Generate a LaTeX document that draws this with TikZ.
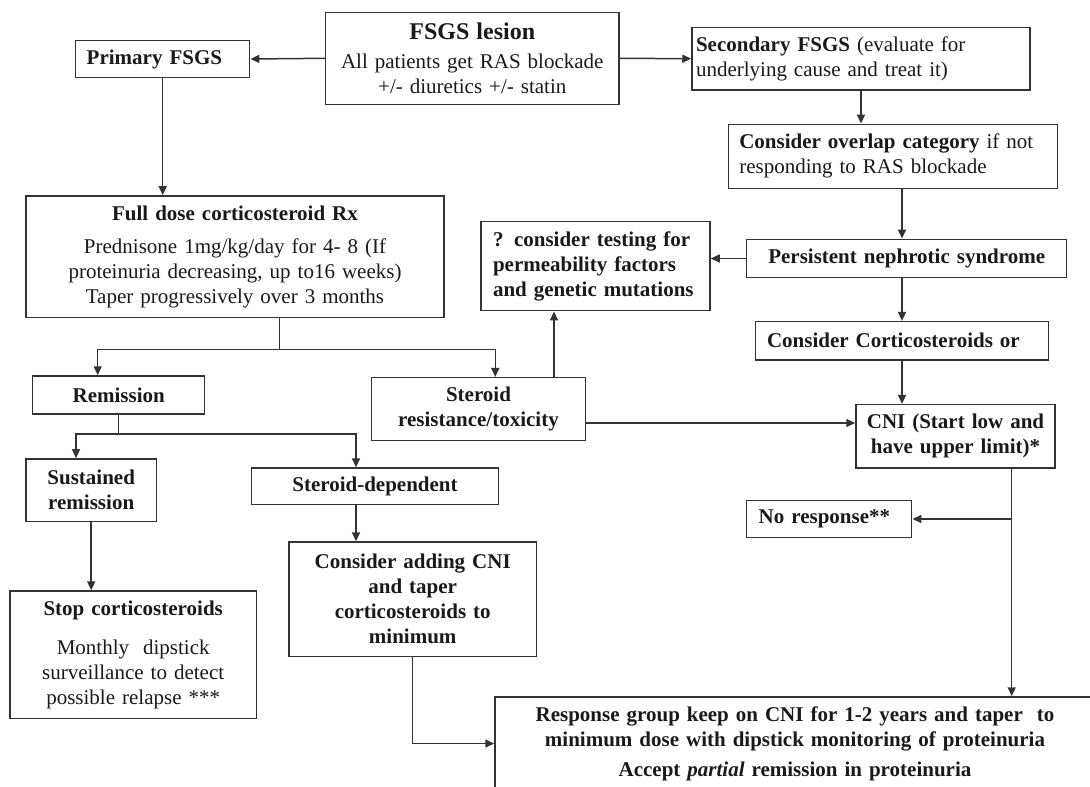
\documentclass[tikz,border=0pt]{standalone}
\usepackage{fontspec}
\setmainfont{Liberation Serif}
\usetikzlibrary{arrows.meta}
\begin{document}
\begin{tikzpicture}[x=1pt, y=-1pt,
	box/.style={draw=black!80, line width=1.5pt, text=black!90, inner xsep=10pt, inner ysep=0pt, align=center, font=\fontsize{21}{25}\selectfont\bfseries},
	plain/.style={box, font=\fontsize{21}{25}\selectfont},
	arr/.style={draw=black!80, line width=1.5pt, -{Triangle[length=9pt,width=8pt]}},
	link/.style={draw=black!80, line width=1.5pt}]
	\path[use as bounding box] (0,0) rectangle (1090,787);
	% top row
	\node[plain, text width=273.3pt, minimum height=92pt] (lesion) at (472.3,58.3) {{\fontsize{24}{29}\selectfont\bfseries FSGS lesion}\\[4pt] All patients get RAS blockade\\ +/- diuretics +/- statin};
	\node[box, align=left, inner xsep=11pt, text width=152pt, minimum height=36.6pt] (primary) at (162.7,59) {Primary FSGS};
	\node[plain, align=left, inner xsep=4pt, text width=330pt, minimum height=62.7pt] (secondary) at (861,58.7) {\textbf{Secondary FSGS} (evaluate for\\ underlying cause and treat it)};
	\node[plain, align=left, inner xsep=11pt, text width=307.4pt, minimum height=64pt] (overlap) at (893,156.3) {\textbf{Consider overlap category} if not\\ responding to RAS blockade};
	% middle
	\node[plain, text width=398pt, minimum height=121.7pt] (fulldose) at (235,256.8) {\textbf{Full dose corticosteroid Rx}\\[8pt] Prednisone 1mg/kg/day for 4- 8 (If\\ proteinuria decreasing, up to16 weeks)\\ Taper progressively over 3 months};
	\node[box, align=left, inner xsep=12pt, text width=205pt, minimum height=89pt] (permeability) at (595.5,266.2) {? consider testing for\\ permeability factors\\ and genetic mutations};
	\node[box, text width=300pt, minimum height=38.4pt] (persistent) at (906.7,258.5) {Persistent nephrotic syndrome};
	\node[box, align=left, inner xsep=11.7pt, text width=269.6pt, minimum height=38.3pt] (considercs) at (901.8,340.8) {Consider Corticosteroids or};
	\node[box, text width=152pt, minimum height=38pt] (remission) at (118.7,395) {Remission};
	\node[box, text width=194.4pt, minimum height=62.6pt] (steroidres) at (478.5,409) {Steroid\\ resistance/toxicity};
	\node[box, inner xsep=8pt, text width=183pt, minimum height=63.3pt] (cni) at (955.5,436.3) {CNI (Start low and\\ have upper limit)*};
	% lower part
	\node[box, text width=110.3pt, minimum height=62.7pt] (sustained) at (91.2,490.3) {Sustained\\ remission};
	\node[box, text width=226.6pt, minimum height=36.3pt] (steroiddep) at (375,486.2) {Steroid-dependent};
	\node[box, align=left, inner xsep=12pt, text width=141pt, minimum height=37.4pt] (noresp) at (829.2,519) {No response**};
	\node[plain, text width=226.3pt, minimum height=127.3pt] (stop) at (133.2,654.7) {\textbf{Stop corticosteroids}\\[14pt] Monthly~ dipstick\\ surveillance to detect\\ possible relapse ***};
	\node[box, text width=227.3pt, minimum height=114.3pt] (addcni) at (412.7,599.2) {Consider adding CNI\\ and taper\\ corticosteroids to\\ minimum};
	\node[box, text width=580pt, minimum height=93pt] (response) at (795,743.5) {Response group keep on CNI for 1-2 years and taper~ to\\ minimum dose with dipstick monitoring of proteinuria\\[5pt] Accept \textit{partial} remission in proteinuria};
	% connectors
	\draw[arr] (lesion.west) -- (primary.east);
	\draw[arr] (lesion.east) -- (secondary.west);
	\draw[arr] (primary.south) -- (primary.south |- fulldose.north);
	\draw[arr] (secondary.south) -- (secondary.south |- overlap.north);
	\coordinate (sp) at (902,0);
	\draw[arr] (overlap.south -| sp) -- (persistent.north -| sp);
	\draw[arr] (persistent.south -| sp) -- (considercs.north -| sp);
	\draw[arr] (considercs.south -| sp) -- (cni.north -| sp);
	\draw[arr] (persistent.west) -- (persistent.west -| permeability.east);
	\coordinate (fd) at (279.3,349.3);
	\draw[link] (fulldose.south -| fd) -- (fd);
	\draw[arr] (fd) -| ([xshift=-21pt]remission.north);
	\draw[arr] (fd) -| ([xshift=16.8pt]steroidres.north);
	\draw[arr] ([xshift=75.5pt]steroidres.north) -- ([xshift=75.5pt]steroidres.north |- permeability.south);
	\draw[arr] ([yshift=-14pt]steroidres.east) -- ([yshift=-14pt]steroidres.east -| cni.west);
	\coordinate (rm) at (118.7,434);
	\draw[link] (remission.south) -- (rm);
	\draw[arr] (rm) -| ([xshift=-15.2pt]sustained.north);
	\draw[arr] (rm) -| ([xshift=-19pt]steroiddep.north);
	\draw[arr] (sustained.south) -- (sustained.south |- stop.north);
	\draw[arr] ([xshift=-19pt]steroiddep.south) -- ([xshift=-19pt]steroiddep.south |- addcni.north);
	\draw[arr] (addcni.south) |- (response.west);
	\coordinate (cb) at (1011.7,519);
	\draw[arr] (cni.south -| cb) -- (response.north -| cb);
	\draw[arr] (cb) -- (noresp.east);
\end{tikzpicture}
\end{document}
